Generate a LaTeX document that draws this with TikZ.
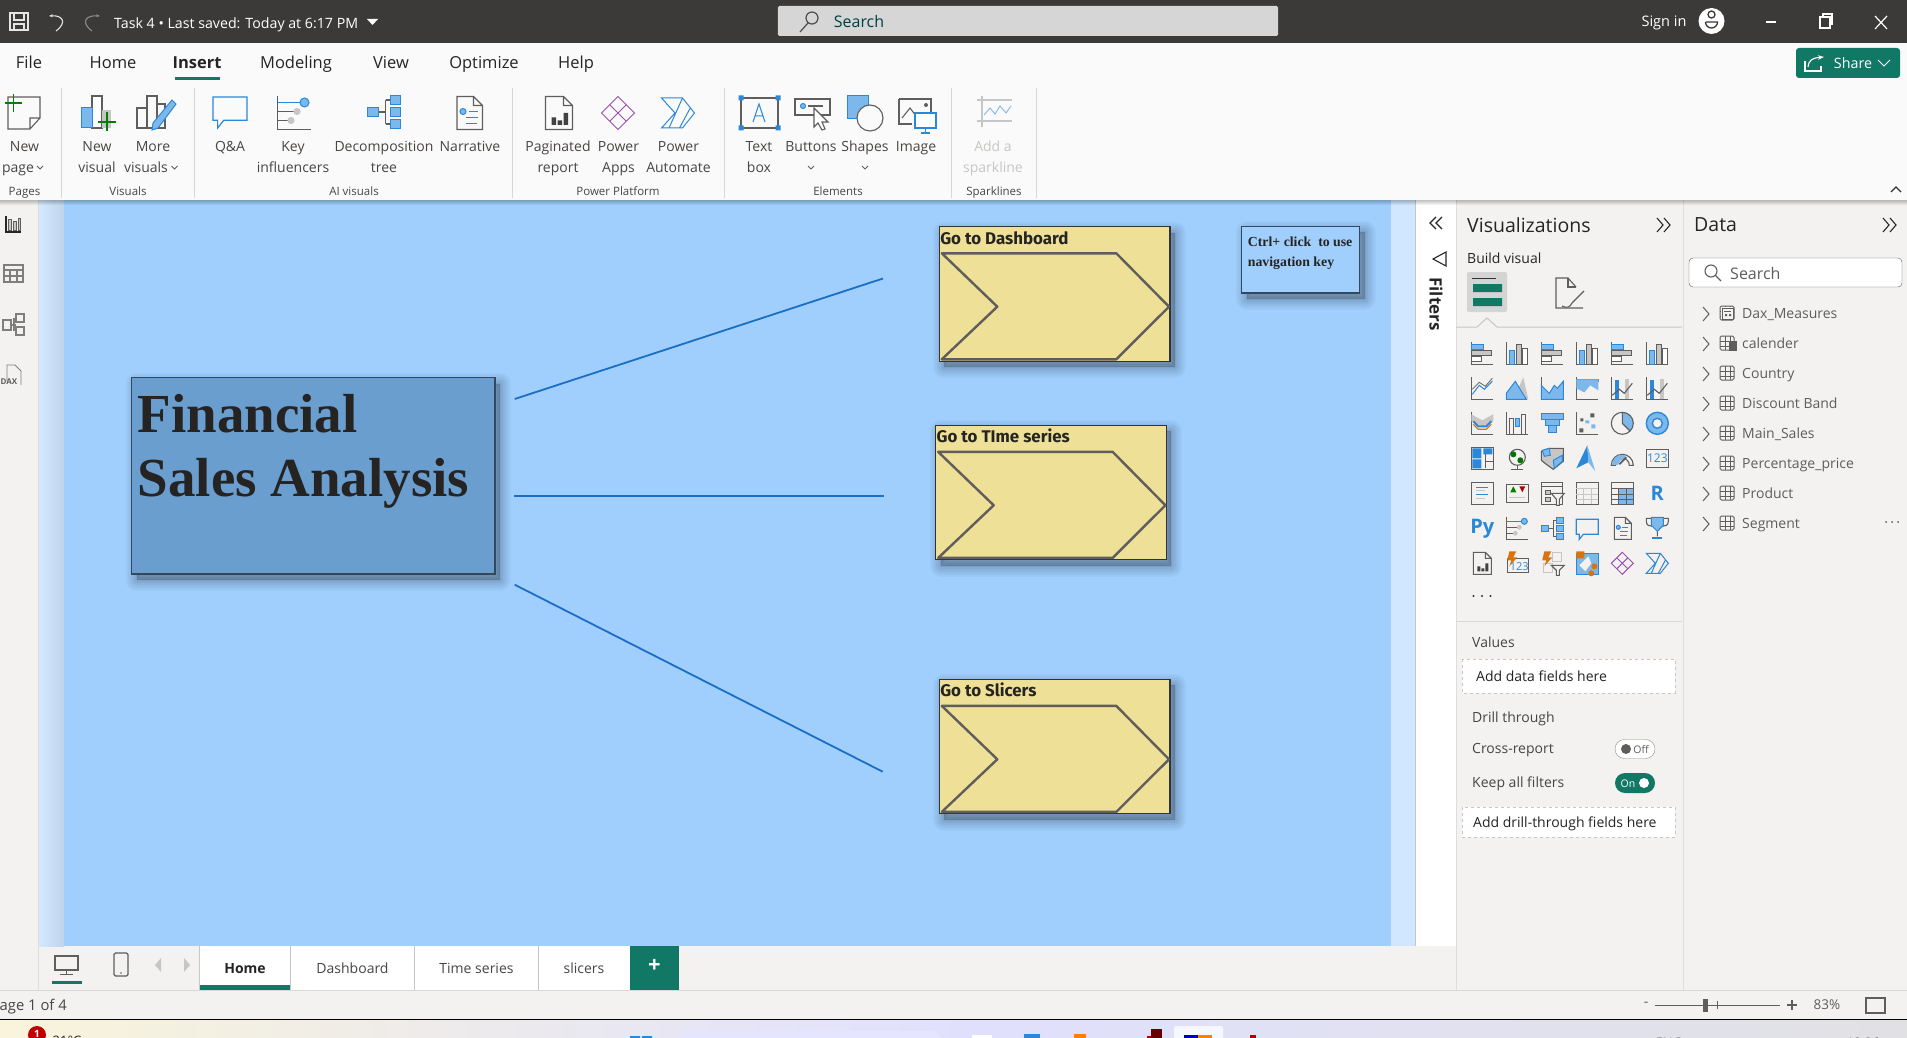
\documentclass[tikz,border=0pt]{standalone}
\usepackage{fontspec}
\setmainfont{Open Sans}
\newfontfamily\serifbold{Liberation Serif}[Scale=1.0]
\newfontfamily\dinfont{Fira Sans}
\usetikzlibrary{positioning,arrows.meta,calc}
\definecolor{titlebar}{HTML}{3B3A39}
\definecolor{ribbonbg}{HTML}{FAFAFA}
\definecolor{panebg}{HTML}{F3F2F1}
\definecolor{pagebg}{HTML}{A0CFFE}
\definecolor{wrapbg}{HTML}{D0E7FF}
\definecolor{pbigreen}{HTML}{117865}
\definecolor{inktext}{HTML}{252423}
\definecolor{softtext}{HTML}{484644}
\definecolor{icogrey}{HTML}{605E5C}
\definecolor{icolight}{HTML}{C8C6C4}
\definecolor{icoblue}{HTML}{2B88D8}
\definecolor{icofill}{HTML}{7DB8EC}
\definecolor{appspurple}{HTML}{9B4FB0}
\definecolor{heatorange}{HTML}{D9730D}
\definecolor{linkblue}{HTML}{1A6FC4}
\definecolor{goldbox}{HTML}{EEE096}
\definecolor{titlebox}{HTML}{6A9ECF}
\definecolor{chevgrey}{HTML}{605E5C}
\definecolor{boxedge}{HTML}{33475E}
\newcommand{\icoaxis}{\draw[icoline] (-11,-11)--(-11,11)--(11,11);}
\newcommand{\px}[1]{\fontsize{#1}{#1}\selectfont}
\tikzset{
  icoline/.style={draw=icogrey,line width=1.1pt},
  icoblu/.style={draw=icoblue,fill=icofill,line width=1pt},
  ribtxt/.style={font=\px{14},text=softtext,inner sep=0pt,anchor=base},
  grptxt/.style={font=\px{11.5},text=softtext,inner sep=0pt,anchor=base},
  tabtxt/.style={font=\px{16.5},text=inktext,inner sep=0pt,anchor=base},
  panetxt/.style={font=\px{14},text=softtext,inner sep=0pt,anchor=base west},
  shadowstep/.style={preaction={draw=black,draw opacity=#1,fill=none,line join=round,transform canvas={xshift=5pt,yshift=-6pt}}},
  softshadow/.style={
    preaction={fill=black,fill opacity=.2,draw=none,transform canvas={xshift=5pt,yshift=-6pt}},
    preaction={draw=black,draw opacity=.03,line width=22pt,line join=round,transform canvas={xshift=5pt,yshift=-6pt}},
    preaction={draw=black,draw opacity=.03,line width=18pt,line join=round,transform canvas={xshift=5pt,yshift=-6pt}},
    preaction={draw=black,draw opacity=.035,line width=14pt,line join=round,transform canvas={xshift=5pt,yshift=-6pt}},
    preaction={draw=black,draw opacity=.04,line width=10pt,line join=round,transform canvas={xshift=5pt,yshift=-6pt}},
    preaction={draw=black,draw opacity=.045,line width=6pt,line join=round,transform canvas={xshift=5pt,yshift=-6pt}},
    preaction={draw=black,draw opacity=.05,line width=2pt,line join=round,transform canvas={xshift=5pt,yshift=-6pt}}},
  gobox/.style={draw=black!80,line width=1.3pt,fill=goldbox,anchor=north west,inner sep=0pt,outer sep=0pt,minimum width=230.7pt,minimum height=134.5pt,softshadow},
  chev/.style={draw=chevgrey,line width=2.4pt,line join=round},
  dropzone/.style={draw=icolight,dashed,fill=white,line width=.8pt},
  pics/hbars/.style={code={\icoaxis \draw[icoblu] (-11,-9) rectangle (1,-4); \draw[icoline,fill=icolight] (-11,-3) rectangle (9,2); \draw[icoline,fill=white] (-11,3) rectangle (-1,8);}},
  pics/vbars/.style={code={\icoaxis \draw[icoblu] (-8,11) rectangle (-3,-3); \draw[icoline,fill=icolight] (-1,11) rectangle (4,-9); \draw[icoline,fill=white] (5,11) rectangle (10,-5);}},
  pics/linec/.style={code={\icoaxis \draw[icoblue,line width=1pt] (-10,6)--(-3,-3)--(2,1)--(10,-7); \draw[icoline,line width=.8pt] (-10,1)--(-3,-6)--(3,-2)--(10,-10);}},
  pics/mount/.style={code={\fill[icolight] (-4,11)--(6,-11)--(11,11)--cycle; \draw[icoblu] (-11,11)--(-11,5)--(-2,-7)--(9,11)--cycle;}},
  pics/areaa/.style={code={\icoaxis \draw[icoblu] (-11,-3)--(-3,5)--(2,-3)--(5,0)--(11,-7)--(11,11)--(-11,11)--cycle;}},
  pics/areab/.style={code={\icoaxis \draw[icoblu] (-11,-9) rectangle (11,-7); \fill[icofill] (-11,-9)--(11,-9)--(11,2)--(3,-3)--(-3,4)--(-11,0)--cycle;}},
  pics/combo/.style={code={\icoaxis \fill[icoblue] (-7,11) rectangle (-3,-8); \fill[icolight] (3,11) rectangle (7,-9); \draw[icoline] (-10,7)--(-3,1)--(2,5)--(10,-5);}},
  pics/ribbon/.style={code={\icoaxis \fill[icolight] (-11,-9)--(0,-3)--(11,-9)--(11,-2)--(0,3)--(-11,-2)--cycle; \draw[heatorange,line width=1.2pt] (-9,1)--(-4,6)--(4,6)--(9,1); \draw[icoblue,line width=2pt] (-9,-2)--(-4,3)--(4,3)--(9,-2);}},
  pics/waterfall/.style={code={\icoaxis \draw[icoline] (-8,11) rectangle (-4,-5); \draw[icoblu] (-2,3) rectangle (2,-5); \draw[icoline] (4,-9) rectangle (8,11);}},
  pics/funnel/.style={code={\draw[icoblu] (-11,-10) rectangle (11,-4); \draw[icoblu] (-7,-4) rectangle (7,2); \draw[icoblu] (-4,2) rectangle (4,9);}},
  pics/scatter/.style={code={\icoaxis \fill[icogrey] (-7,-5) rectangle +(3,3) (3,-10) rectangle +(4,4) (-8,5) rectangle +(4,4); \fill[icofill] (-2,-3) rectangle +(4,3) (4,1) rectangle +(4,4);}},
  pics/piec/.style={code={\fill[icofill] (0,0)--(0,-11) arc[start angle=-90,end angle=45,radius=11]--cycle; \draw[icoline] (0,0) circle[radius=11]; \draw[icoline] (0,-11)--(0,0)--(7.8,7.8);}},
  pics/donut/.style={code={\draw[icoblue,fill=icofill,line width=1.4pt] (0,0) circle[radius=11]; \draw[icoblue,fill=panebg,line width=1.4pt] (0,0) circle[radius=5];}},
  pics/treemap/.style={code={\draw[icoline] (-11,-11) rectangle (11,11); \fill[icoblue] (-10,-10) rectangle (-1,0) (-10,1) rectangle (-1,10) (1,-10) rectangle (10,-4); \draw[icoline] (3,-4)--(3,10) (3,3)--(11,3);}},
  pics/globe/.style={code={\draw[icoline] (0,-1) circle[radius=8]; \fill[green!45!black] (-4,-4) circle[radius=3] (3,2) circle[radius=3]; \draw[icoline] (-6,11)--(6,11) (0,7)--(0,11);}},
  pics/filledmap/.style={code={\draw[icoline,fill=icolight] (-11,-7)--(-3,-10)--(11,-10)--(11,3)--(1,11)--(-6,6)--(-11,2)--cycle; \draw[icoblu] (-10,-8)--(-3,-10)--(-2,-3)--(-8,-2)--cycle; \draw[icoblu] (1,2)--(10,-3)--(10,3)--(2,10)--cycle;}},
  pics/azure/.style={code={\fill[icoblue] (0,-13)--(-11,10)--(1,4)--cycle; \fill[icofill] (0,-13)--(1,4)--(8,13)--cycle;}},
  pics/gauge/.style={code={\draw[icoline] (-11,7) arc[start angle=180,end angle=360,radius=11]--(7,7) arc[start angle=0,end angle=-180,radius=7]--cycle; \fill[icofill] (-10,6.5) arc[start angle=180,end angle=290,radius=10]--(2.5,1.8) arc[start angle=290,end angle=180,radius=5]--cycle; \draw[icoline,line width=1.6pt] (-3,6)--(4,-1);}},
  pics/card/.style={code={\draw[icoline] (-11,-9) rectangle (11,9); \node[inner sep=0pt,text=icoblue,font=\px{12}] (card-t) at (0,0) {123};}},
  pics/multirow/.style={code={\draw[icoline] (-11,-11) rectangle (11,11); \draw[icoblue,line width=1.6pt] (-6,-6)--(6,-6) (-6,1)--(6,1); \draw[icolight,line width=1.2pt] (-6,-3)--(3,-3) (-6,5)--(3,5);}},
  pics/kpi/.style={code={\draw[icoline] (-11,-9) rectangle (11,9); \fill[green!50!black] (-7,-1)--(-4,-7)--(-1,-1)--cycle; \fill[red!70!black] (2,-7)--(8,-7)--(5,-1)--cycle; \draw[icolight,line width=1.4pt] (-8,4)--(8,4);}},
  pics/slicer/.style={code={\draw[icoline] (-11,-11) rectangle (10,11); \draw[icoline] (-11,-7)--(10,-7); \draw[icoline,fill=icolight] (-7,-3) rectangle (-2,1) (-7,4) rectangle (-2,8); \draw[icoline,fill=panebg] (-1,0)--(12,0)--(7,6)--(7,12)--(4,12)--(4,6)--cycle;}},
  pics/tablec/.style={code={\draw[icoline] (-11,-11) rectangle (11,11); \draw[icolight,line width=1pt] (-11,-5)--(11,-5) (-11,1)--(11,1) (-11,6)--(11,6) (-4,-5)--(-4,11) (4,-5)--(4,11);}},
  pics/matrix/.style={code={\fill[icofill] (-4,-5) rectangle (11,11); \draw[icoline] (-11,-11) rectangle (11,11); \draw[icoline,line width=.8pt] (-11,-5)--(11,-5) (-11,1)--(11,1) (-11,6)--(11,6) (-4,-5)--(-4,11) (4,-5)--(4,11);}},
  pics/rtext/.style={code={\node[inner sep=0pt,text=icoblue,font=\px{20}\bfseries] (r-t) at (0,0) {R};}},
  pics/pytext/.style={code={\node[inner sep=0pt,text=icoblue,font=\px{20}\bfseries] (py-t) at (0,0) {Py};}},
  pics/keyinf/.style={code={\icoaxis \draw[icoblue,line width=1pt] (-11,-7)--(4,-7); \draw[icoblu] (7,-7) circle[radius=3]; \draw[icoline] (-11,-1)--(1,-1) (-11,5)--(-3,5); \fill[icolight] (2,-1) circle[radius=2.4] (-2,5) circle[radius=2.4];}},
  pics/decomp/.style={code={\draw[icoline] (-4,0)--(1,0) (1,-8)--(1,8) (1,-8)--(5,-8) (1,8)--(5,8); \draw[icoblu] (-11,-3) rectangle (-4,3) (4,-11) rectangle (11,-5) (4,-3) rectangle (11,3) (4,5) rectangle (11,11);}},
  pics/qna/.style={code={\draw[icoblue,line width=1.2pt] (-11,-9)--(11,-9)--(11,6)--(-4,6)--(-8,11)--(-8,6)--(-11,6)--cycle;}},
  pics/narrative/.style={code={\draw[icoline] (-8,-11)--(3,-11)--(9,-5)--(9,11)--(-8,11)--cycle (3,-11)--(3,-5)--(9,-5); \draw[icoblu] (-4,-1) circle[radius=2]; \draw[icoblue,line width=1pt] (0,-1)--(6,-1) (-2,3)--(6,3) (-2,7)--(5,7);}},
  pics/trophy/.style={code={\draw[icoline] (-6,-10)--(-11,-10)--(-11,-7) .. controls (-11,-3) and (-8,-2) .. (-5,-2) (6,-10)--(11,-10)--(11,-7) .. controls (11,-3) and (8,-2) .. (5,-2) (0,3)--(0,8); \draw[icoblu] (-6,-11)--(6,-11)--(6,-3)--(0,3)--(-6,-3)--cycle; \draw[icoblue,line width=2pt] (-5,10)--(5,10);}},
  pics/report/.style={code={\draw[icoline] (-9,-11)--(3,-11)--(9,-5)--(9,11)--(-9,11)--cycle (3,-11)--(3,-5)--(9,-5); \fill[icogrey!70!black] (-5,8) rectangle (-2,3) (-1,8) rectangle (2,5) (3,8) rectangle (6,0);}},
  pics/firecard/.style={code={\draw[icoline] (-10,-5) rectangle (11,9); \node[inner sep=0pt,text=icoblue,font=\px{11}] (fire-t) at (2,3) {123}; \fill[heatorange] (-8,-12)--(-1,-12)--(-4,-6)--(0,-6)--(-8,3)--(-6,-3)--(-10,-3)--cycle;}},
  pics/firefilter/.style={code={\draw[icolight,line width=1pt] (0,-11) rectangle (9,-2) (-9,0) rectangle (0,9); \draw[icoline,fill=panebg] (-1,2)--(12,2)--(7,7)--(7,12)--(4,12)--(4,7)--cycle; \fill[heatorange] (-8,-12)--(-1,-12)--(-4,-6)--(0,-6)--(-8,3)--(-6,-3)--(-10,-3)--cycle;}},
  pics/shapemap/.style={code={\draw[icoblu] (-11,-10) rectangle (11,11); \fill[panebg] (-8,2)--(1,-7)--(4,0)--(-2,8)--cycle; \fill[heatorange] (-11,-12) rectangle (-3,-5) (7,3) circle[radius=3] (4,10) circle[radius=3];}},
  pics/apps/.style={code={\draw[appspurple,line width=1pt] (0,-11)--(11,0)--(0,11)--(-11,0)--cycle (-5.5,-5.5)--(5.5,5.5) (5.5,-5.5)--(-5.5,5.5);}},
  pics/automate/.style={code={\draw[icoblue,line width=1pt] (-11,-10)--(3,-10)--(11,0)--(3,10)--(-11,10)--(-2,0)--cycle (3,-10)--(-6,10) (8,-3)--(1,10);}},
}
\begin{document}
\begin{tikzpicture}[x=1pt,y=-1pt,line cap=butt]
\clip (0,0) rectangle (1907,1038);
\useasboundingbox (0,0) rectangle (1907,1038);
% window frame
\fill[panebg] (0,0) rectangle (1907,1038);
\fill[ribbonbg] (0,43) rectangle (1907,200);
\fill[left color=wrapbg!90!white,right color=wrapbg!92!black] (38,200) rectangle (64,946);
\fill[wrapbg] (1391,200) rectangle (1415,946);
\fill[pagebg] (64,200) rectangle (1391,946);
\fill[white] (1416,200) rectangle (1456,946);
\draw[icolight] (1415.5,200)--(1415.5,946);
\draw[icolight!60] (38,200)--(38,990);
\draw[icolight!60] (1456,200)--(1456,990) (1683,200)--(1683,990);
\draw[icolight!70] (0,990)--(1907,990);
\fill[titlebar] (0,0) rectangle (1907,43);
% canvas boxes
\node[draw=boxedge,line width=1.5pt,fill=titlebox,anchor=north west,inner sep=0pt,outer sep=0pt,minimum width=363.5pt,minimum height=196.5pt,softshadow] (title) at (131.5,377.7) {};
\node[font=\serifbold\bfseries\px{55},text=inktext,anchor=base west,inner sep=0pt] (title-a) at (137.5,432.7) {Financial};
\node[font=\serifbold\bfseries\px{55},text=inktext,anchor=base west,inner sep=0pt] (title-b) at (137.5,496) {Sales Analysis};
\foreach \nm/\x/\y/\lab in {dash/939.3/226.7/Go to Dashboard,time/935.7/425.3/Go to TIme series,slic/939.3/679.3/Go to Slicers}{
  \node[gobox] (\nm) at (\x,\y) {};
  \node[font=\dinfont\bfseries\px{16.9},text=inktext,anchor=base west,inner sep=0pt] (\nm-lab) at (\x+.8,\y+17.3) {\lab};
  \draw[chev] ($(\nm.north west)+(2.5,26.6)$) -- ($(\nm.north west)+(177,26.6)$) -- ($(\nm.north west)+(229.7,80)$) -- ($(\nm.north west)+(177,132.6)$) -- ($(\nm.north west)+(2.5,132.6)$) -- ($(\nm.north west)+(58,80)$) -- cycle;
}
\node[draw=boxedge,line width=1.4pt,fill=pagebg,anchor=north west,inner sep=0pt,outer sep=0pt,minimum width=118pt,minimum height=66.7pt,softshadow] (hint) at (1241.7,226.3) {};
\node[font=\serifbold\bfseries\px{13.8},text=inktext,anchor=base west,inner sep=0pt] (hint-a) at (1247.7,246.7) {Ctrl+ click\ \ to use};
\node[font=\serifbold\bfseries\px{13.8},text=inktext,anchor=base west,inner sep=0pt] (hint-b) at (1247.7,266) {navigation key};
% connectors
\coordinate (out-a) at (514.7,399);
\coordinate (out-b) at (514.2,496.3);
\coordinate (out-c) at (514.7,584.7);
\coordinate (in-a) at (883,278.5);
\coordinate (in-b) at (883.7,496.3);
\coordinate (in-c) at (882.7,771.7);
\foreach \a in {a,b,c}
  \draw[linkblue,line width=1.8pt] (out-\a) -- (in-\a);
% ribbon shadow
\foreach \d in {0,1,2,3,4}
  \fill[black,opacity=.05] (0,200) rectangle (1907,{200+\d+1});
\fill[ribbonbg] (0,195) rectangle (1907,200);
% title bar
\draw[white!90!black,line width=1.1pt] (10,13) rectangle (28,30) (14,13) rectangle (24,20) (14,30) rectangle (24,24);
\draw[white!90!black,line width=1.1pt,-{Stealth[length=4pt]}] (56,31) .. controls (68,22) and (62,15) .. (49,16);
\draw[white!55!black,line width=1.1pt,-{Stealth[length=4pt]}] (92,31) .. controls (80,22) and (86,15) .. (100,16);
\node[font=\px{14.2},text=white,anchor=west,inner sep=0pt] (docname) at (114,25) {Task 4\ \textbullet\ Last saved: Today at 6:17 PM};
\fill[white] (367,19)--(378,19)--(372.5,25)--cycle;
\fill[black!16,rounded corners=1.5pt] (777.8,6) rectangle (1278,36);
\draw[black!70,line width=1.2pt] (812,18) circle[radius=6] (808,23)--(800,32);
\node[font=\px{16},text=black!50!teal,inner sep=0pt] (topsearch) at (859,22) {Search};
\node[font=\px{14.5},text=white,inner sep=0pt] (signin) at (1664,23) {Sign in};
\fill[white] (1711.5,21) circle[radius=13];
\draw[titlebar,line width=1.3pt] (1711.5,14.5) circle[radius=3.5] (1705.5,22)--(1717.5,22) arc[start angle=0,end angle=180,radius=6];
\draw[white,line width=1.2pt] (1766,22)--(1776,22);
\draw[white,line width=1.1pt] (1820,17) rectangle (1830,28) (1823,17)--(1823,14)--(1832,14)--(1832,24)--(1830,24);
\draw[white,line width=1.2pt] (1875,16)--(1887,29) (1887,16)--(1875,29);
% share button
\fill[pbigreen,rounded corners=3pt] (1796,48) rectangle (1900,78);
\draw[white,line width=1.1pt] (1805,61)--(1805,71)--(1821,71)--(1821,66);
\draw[white,line width=1.1pt,-{Stealth[length=6pt]}] (1808,67) .. controls (1809,60) and (1812,58) .. (1824,57);
\node[font=\px{14.3},text=white,inner sep=0pt] (share) at (1853,63) {Share};
\draw[white,line width=1pt] (1878,60)--(1884,66)--(1890,60);
% ribbon tabs
\foreach \lab/\x in {File/29,Home/113,Modeling/296,View/391,Optimize/484,Help/576}
  \node[tabtxt] (tab-\lab) at (\x,69) {\lab};
\node[tabtxt,font=\px{16.5}\bfseries] (tab-Insert) at (197,69) {Insert};
\fill[pbigreen] (175,77.5) rectangle (220,80.5);
% ribbon buttons
\foreach \a/\b/\x/\xb [count=\i] in {New/page/24.5/18,New/visual/97/97,More/visuals/153/146,Key/influencers/293/293,Decomposition/tree/384/384,Paginated/report/558/558,Power/Apps/618.5/618.5,Power/Automate/678.5/678.5,Text/box/759/759}{
  \node[ribtxt] (btn-\i a) at (\x,152) {\a};
  \node[ribtxt] (btn-\i b) at (\xb,172) {\b};
}
\foreach \a/\x [count=\i] in {Q\&A/230,Narrative/470,Buttons/811,Shapes/865,Image/916}
  \node[ribtxt] (solo-\i) at (\x,152) {\a};
\node[ribtxt,text=icolight] (spark-a) at (993,152) {Add a};
\node[ribtxt,text=icolight] (spark-b) at (993,172) {sparkline};
\foreach \lab/\x [count=\i] in {Pages/24.5,Visuals/128,AI visuals/354,Power Platform/618,Elements/838,Sparklines/994}
  \node[grptxt] (grp-\i) at (\x,196) {\lab};
\foreach \x in {61,194,512.5,724,951,1036}
  \draw[icolight!70] (\x,88)--(\x,198);
\draw[icogrey,line width=.9pt] (37,166)--(40,169)--(43,166) (171.5,166)--(174.5,169)--(177.5,166) (808,166)--(811,169)--(814,166) (862,166)--(865,169)--(868,166);
\draw[black!80,line width=1.2pt] (1891,192)--(1896,187)--(1901,192);
% ribbon icons
\draw[icoline] (8,97)--(40,97)--(40,118)--(30,129)--(8,129)--cycle (30,129)--(30,118)--(40,118);
\draw[green!50!black,line width=1.2pt] (13.5,94)--(13.5,112) (5,103)--(22,103);
\draw[icoline,fill=white] (92,96) rectangle (102,128);
\fill[icolight] (102,110) rectangle (111,128);
\draw[icoblu] (81,108) rectangle (92,128);
\draw[green!50!black,line width=1.2pt] (107,112)--(107,131) (98,122)--(116,122);
\draw[icoline] (137,108) rectangle (147,128) (147,96) rectangle (157,128) (157,104) rectangle (165,128);
\draw[icoblu] (172,100)--(176,104)--(158,128)--(152,130)--(153,123)--cycle;
\pic[scale=1.55] at (230,111) {qna};
\pic[scale=1.5] at (294,113) {keyinf};
\pic[scale=1.5] at (384,112) {decomp};
\pic[scale=1.5] at (469,113) {narrative};
\pic[scale=1.5] at (559,113) {report};
\pic[scale=1.5] at (618,113) {apps};
\pic[scale=1.5] at (678,113) {automate};
\draw[icoline] (741,98) rectangle (778,128);
\fill[icoblue] (738.5,95.5) rectangle +(5,5) (775.5,95.5) rectangle +(5,5) (738.5,125.5) rectangle +(5,5) (775.5,125.5) rectangle +(5,5);
\draw[icoblue,line width=1pt] (753,122)--(759,104)--(765,122) (755,116)--(763,116);
\draw[icoline,line width=1.4pt] (795,99) rectangle (830,115);
\draw[icoblu] (803,106) circle[radius=2.5];
\draw[icoline] (808,106)--(823,106);
\draw[icoline,fill=white] (814,108)--(814,127)--(818,123)--(822,130)--(825,129)--(822,122)--(828,122)--cycle;
\draw[icoblu] (847,96) rectangle (868,119);
\draw[icoline,fill=ribbonbg] (870,118) circle[radius=13];
\draw[icoline,line width=1.4pt] (899,99)--(931,99)--(931,114) (899,99)--(899,124)--(912,124);
\draw[icoline] (902,118)--(910,108)--(916,116);
\fill[icogrey] (926,105) circle[radius=2];
\draw[icoblue,fill=white,line width=1.2pt] (915,113) rectangle (936,128) (925.5,128)--(925.5,132) (921,133)--(930,133);
\draw[icolight,line width=1.2pt] (982,96)--(982,127) (977,100)--(1012,100) (977,121)--(1012,121);
\draw[icofill,line width=.9pt] (984,115)--(990,108)--(995,114)--(1000,106)--(1006,113)--(1011,106);
% left rail
\draw[black!85,line width=1.1pt] (6,216)--(6,232)--(21,232);
\draw[icogrey,fill=icolight,line width=1pt] (8,219) rectangle (11,230) (13,221) rectangle (16,230) (18,218) rectangle (20,230);
\draw[icogrey!80,line width=1.2pt] (4,265) rectangle (23,282) (4,270)--(23,270) (4,276)--(23,276) (10,270)--(10,282) (17,270)--(17,282);
\draw[icogrey!80,line width=1.1pt] (3,320) rectangle (11,330) (16,314) rectangle (24,322) (16,327) rectangle (24,335) (11,325)--(16,325) (14,318)--(14,331);
\draw[icogrey!80,line width=.9pt] (7,381)--(7,365)--(15,365)--(21,371)--(21,385);
\node[font=\px{8}\bfseries,text=icogrey,inner sep=0pt] (daxtag) at (9,381.5) {DAX};
% filters strip
\draw[black!85,line width=1.1pt] (1436,217)--(1430,223)--(1436,229) (1442,217)--(1436,223)--(1442,229);
\draw[black!85,line width=1.1pt] (1433,259)--(1446,252)--(1446,266)--cycle;
\node[font=\px{17}\bfseries,text=inktext,rotate=-90,inner sep=0pt] (filters) at (1436,304) {Filters};
% visualizations pane
\node[font=\px{19.5},text=inktext,anchor=west,inner sep=0pt] (vizhead) at (1467,225) {Visualizations};
\draw[black!85,line width=1.1pt] (1657,218)--(1663,225)--(1657,232) (1664,218)--(1670,225)--(1664,232);
\node[panetxt,text=inktext] (buildvis) at (1467,263) {Build visual};
\fill[black!17,rounded corners=1.5pt] (1467,272) rectangle (1507,312);
\fill[pbigreen] (1473,284) rectangle (1502,292) (1473,298) rectangle (1502,306);
\draw[black!80] (1472,278)--(1496,278);
\draw[icoline] (1583,308)--(1556,308)--(1556,278)--(1568,278)--(1576,287);
\draw[icoline] (1568,278)--(1568,287)--(1576,287);
\draw[icoline] (1584,291)--(1572,303) .. controls (1570,308) and (1566,308) .. (1562,306);
\draw[icolight,line width=1pt] (1456,327)--(1477,327)--(1487,318)--(1497,327)--(1682,327);
\foreach \kinds [count=\r] in {
  {hbars,vbars,hbars,vbars,hbars,vbars},
  {linec,mount,areaa,areab,combo,combo},
  {ribbon,waterfall,funnel,scatter,piec,donut},
  {treemap,globe,filledmap,azure,gauge,card},
  {multirow,kpi,slicer,tablec,matrix,rtext},
  {pytext,keyinf,decomp,qna,narrative,trophy},
  {report,firecard,firefilter,shapemap,apps,automate}}
  \foreach \k [count=\c] in \kinds {
    \edef\next{\noexpand\pic at ({1447.3+35*\c},{318.3+35*\r}) {\k};}\next
  };
\fill[black!80] (1473.5,596) circle[radius=1.1] (1482,596) circle[radius=1.1] (1490.5,596) circle[radius=1.1];
\draw[icolight!70] (1456,621.5)--(1682,621.5);
\node[panetxt] (vals) at (1472,647) {Values};
\draw[dropzone] (1462,659) rectangle (1675,693);
\node[panetxt,text=inktext] (addvals) at (1476,681) {Add data fields here};
\node[panetxt] (drill) at (1472,722) {Drill through};
\node[panetxt] (cross) at (1472,753) {Cross-report};
\draw[icogrey!70,fill=white,rounded corners=9.5pt] (1615,739.5) rectangle (1655,758.5);
\fill[icogrey] (1626,749) circle[radius=5];
\node[font=\px{10.5},text=icogrey,inner sep=0pt] (offtag) at (1641,750) {Off};
\node[panetxt] (keep) at (1472,787) {Keep all filters};
\fill[pbigreen,rounded corners=10pt] (1615,773) rectangle (1655,793);
\node[font=\px{10.5},text=white,inner sep=0pt] (ontag) at (1628,784) {On};
\fill[white] (1644,783) circle[radius=5];
\draw[dropzone] (1462,807) rectangle (1675,837);
\node[panetxt,text=inktext] (adddrill) at (1473,827) {Add drill-through fields here};
% data pane
\node[font=\px{19.5},text=inktext,anchor=west,inner sep=0pt] (datahead) at (1694,225) {Data};
\draw[black!85,line width=1.1pt] (1883,218)--(1889,225)--(1883,232) (1890,218)--(1896,225)--(1890,232);
\draw[icogrey,fill=white,rounded corners=4pt] (1689,258) rectangle (1902,287);
\draw[icogrey,line width=1.1pt] (1711,271) circle[radius=6] (1715.5,275.5)--(1721,281);
\node[font=\px{16},text=icogrey,anchor=west,inner sep=0pt] (datasearch) at (1730,273) {Search};
\foreach \lab [count=\i] in {Dax\_Measures,calender,Country,Discount Band,Main\_Sales,Percentage\_price,Product,Segment}{
  \node[panetxt,text=icogrey] (fld-\i) at (1742,{288.5+30*\i}) {\lab};
  \draw[icogrey,line width=1pt] (1703,{277+30*\i})--(1709,{284+30*\i})--(1703,{291+30*\i});
  \draw[icogrey,line width=1pt,rounded corners=1.5pt] (1720,{276+30*\i}) rectangle (1734,{290+30*\i});
  \draw[icogrey,line width=.8pt] (1720,{281+30*\i})--(1734,{281+30*\i}) (1720,{286+30*\i})--(1734,{286+30*\i}) (1725,{276+30*\i})--(1725,{290+30*\i}) (1730,{276+30*\i})--(1730,{290+30*\i});
}
\fill[panebg] (1721,307) rectangle (1733,319);
\draw[icogrey,line width=1pt] (1722,308) rectangle (1733,319);
\draw[icogrey,line width=1pt] (1724,311)--(1731,311);
\fill[icogrey] (1725,314) rectangle +(2,2) (1729,314) rectangle +(2,2);
\fill[icogrey] (1729,341) rectangle (1737,351);
\fill[icogrey] (1886,522) circle[radius=1] (1892,522) circle[radius=1] (1898,522) circle[radius=1];
% page tabs
\fill[white] (199,946) rectangle (630,990);
\fill[pbigreen] (199,985) rectangle (290,990);
\fill[pbigreen] (630,946) rectangle (679,990);
\draw[icolight] (199,946)--(199,990) (290.5,946)--(290.5,990) (414.5,946)--(414.5,990) (538.5,946)--(538.5,990);
\node[tabtxt,font=\px{14}\bfseries,text=inktext] (page-1) at (245,973) {Home};
\foreach \lab/\x [count=\i from 2] in {Dashboard/352.5,Time series/476.5,slicers/584}
  \node[font=\px{14},text=softtext,inner sep=0pt,anchor=base] (page-\i) at (\x,973) {\lab};
\node[font=\px{22}\bfseries,text=white,inner sep=0pt] (addpage) at (654.5,966) {+};
\draw[icogrey,line width=1.1pt] (55,956) rectangle (78,970) (66.5,970)--(66.5,974) (60,974.5)--(73,974.5);
\fill[pbigreen] (52,980.5) rectangle (82,983.5);
\draw[icogrey,line width=1.1pt,rounded corners=1.5pt] (114,953) rectangle (128,976);
\fill[icogrey] (121,973) circle[radius=.8];
\fill[icolight] (161,958)--(161,972)--(155,965)--cycle (184,958)--(184,972)--(190,965)--cycle;
% status bar
\node[font=\px{14.8},text=softtext,anchor=east,inner sep=0pt] (pagecount) at (67,1007) {Page 1 of 4};
\draw[black,line width=1.4pt] (0,1019.5)--(1907,1019.5);
\node[font=\px{14},text=icogrey,inner sep=0pt] (zoomout) at (1646,1004) {-};
\draw[icogrey,line width=1pt] (1655,1005)--(1780,1005) (1717,1001)--(1717,1009);
\fill[icogrey] (1702.5,998.5) rectangle (1707.5,1012);
\draw[icogrey,line width=1.3pt] (1787,1005)--(1797,1005) (1792,1000)--(1792,1010);
\node[font=\px{13.5},text=icogrey,inner sep=0pt] (zoompct) at (1827,1005) {83\%};
\draw[icogrey,line width=1.1pt] (1866,998) rectangle (1885,1013);
% taskbar
\fill[left color=goldbox!35!white,right color=white!85!blue!30!gray!30,middle color=black!5!blue!12!white] (0,1020) rectangle (1907,1038);
\fill[red!75!black] (37,1035) circle[radius=9];
\node[font=\px{10}\bfseries,text=white,inner sep=0pt] (badge) at (37,1034) {1};
\node[font=\px{13},text=inktext,inner sep=0pt] (weather) at (67,1041) {21\textdegree C};
\fill[icoblue] (630,1036) rectangle (640,1046) (642,1036) rectangle (652,1046);
\fill[white!90!blue,rounded corners=12pt] (679,1031) rectangle (943,1062);
\fill[white] (972,1035) rectangle (992,1040);
\fill[icoblue] (1024,1034) rectangle (1040,1040);
\fill[orange] (1074,1034) rectangle (1086,1040);
\fill[red!70!black] (1147,1036) rectangle (1152,1040);
\fill[black!60!red] (1151,1029) rectangle (1162,1040);
\fill[white!70!blue!10,rounded corners=2pt] (1174,1026) rectangle (1223,1042);
\fill[blue!70!black] (1184,1035) rectangle (1198,1040);
\fill[orange] (1198,1035) rectangle (1212,1040);
\fill[red!70!black] (1250,1035) rectangle (1256,1040);
\node[font=\px{13},text=inktext,inner sep=0pt] (lang) at (1669,1043) {ENG};
\node[font=\px{13},text=inktext,inner sep=0pt] (clock) at (1863,1043) {18:26};
\end{tikzpicture}
\end{document}
